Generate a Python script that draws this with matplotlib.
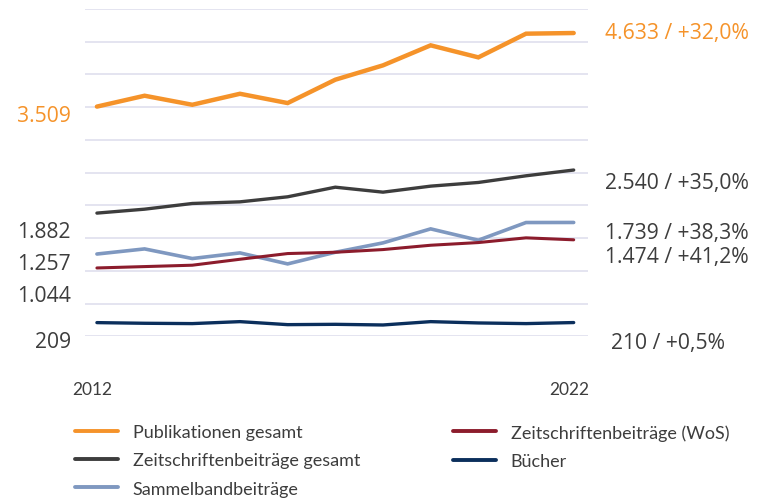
import matplotlib
matplotlib.use("Agg")
import matplotlib.pyplot as plt
import numpy as np

years = np.arange(2012, 2023)

publikationen = [3509, 3675, 3537, 3705, 3563, 3920, 4139, 4445, 4261, 4623, 4633]
zeitschriften = [1882, 1942, 2029, 2054, 2131, 2278, 2202, 2294, 2350, 2452, 2540]
sammelband = [1257, 1335, 1188, 1274, 1106, 1284, 1427, 1641, 1468, 1738, 1739]
wos = [1044, 1065, 1086, 1177, 1264, 1284, 1325, 1391, 1432, 1504, 1474]
buecher = [209, 199, 194, 224, 178, 183, 173, 224, 204, 194, 210]

names = ["Publikationen gesamt", "Zeitschriftenbeiträge gesamt", "Sammelbandbeiträge",
         "Zeitschriftenbeiträge (WoS)", "Bücher"]
start_labels = ["3.509", "1.882", "1.257", "1.044", "209"]
end_labels = ["4.633 / +32,0%", "2.540 / +35,0%", "1.739 / +38,3%", "1.474 / +41,2%", "210 / +0,5%"]

colors = ["#f5932a", "#3d3d3d", "#7f98c0", "#8c1c2c", "#0b2f5c"]
widths = [3.2, 2.4, 2.6, 2.2, 2.4]
text_grey = "#3d3d3d"
narrow = "Lato"

fig = plt.figure(figsize=(7.64, 5.02), dpi=100)
ax = fig.add_axes([85 / 764, 1 - 337.3 / 502, 503 / 764, 327.3 / 502])

series = [publikationen, zeitschriften, sammelband, wos, buecher]
handles = []
for vals, c, lw, nm in zip(series, colors, widths, names):
    h, = ax.plot(years, vals, color=c, lw=lw, solid_capstyle="round", solid_joinstyle="miter",
                 label=nm, clip_on=False, zorder=3)
    handles.append(h)

ax.set_xlim(2011.75, 2022.3)
ax.set_ylim(0, 5000)
ax.set_yticks(np.arange(0, 5001, 500))
ax.set_yticklabels([])
ax.set_xticks([])
ax.tick_params(left=False, length=0)
ax.grid(axis="y", color="#dcdcec", lw=1.1)
for s in ax.spines.values():
    s.set_visible(False)

# left start values
left_y = [116, 232, 265, 297, 343]
left_c = [colors[0], text_grey, text_grey, text_grey, text_grey]
for lab, py, c in zip(start_labels, left_y, left_c):
    fig.text(71 / 764, 1 - py / 502, lab, ha="right", va="center", fontsize=15.2,
             family="Open Sans", color=c)

# right end values
right_y = [34, 184, 233, 257, 344]
right_x = [605, 605, 605, 605, 611]
right_c = [colors[0], text_grey, text_grey, text_grey, text_grey]
for lab, px, py, c in zip(end_labels, right_x, right_y, right_c):
    fig.text(px / 764, 1 - py / 502, lab, ha="left", va="center", fontsize=15.2,
             family="Open Sans", color=c)

for yr in [years[0], years[-1]]:
    ax.text(yr - 0.1, -800, str(yr), ha="center", va="center", fontsize=12.5,
            family=narrow, color=text_grey)

leg_kw = dict(loc="upper left", frameon=False, prop={"family": narrow, "size": 13},
              handlelength=2.4, handletextpad=0.8, labelspacing=0.68, borderpad=0,
              borderaxespad=0, labelcolor=text_grey)
leg1 = fig.legend(handles[:3], names[:3], bbox_to_anchor=(75 / 764, 1 - 425 / 502), **leg_kw)
leg2 = fig.legend(handles[3:], names[3:], bbox_to_anchor=(453 / 764, 1 - 425 / 502), **leg_kw)
for lg in [leg1, leg2]:
    for lh in lg.get_lines():
        lh.set_linewidth(2.8)

fig.savefig("out.png", dpi=100)
